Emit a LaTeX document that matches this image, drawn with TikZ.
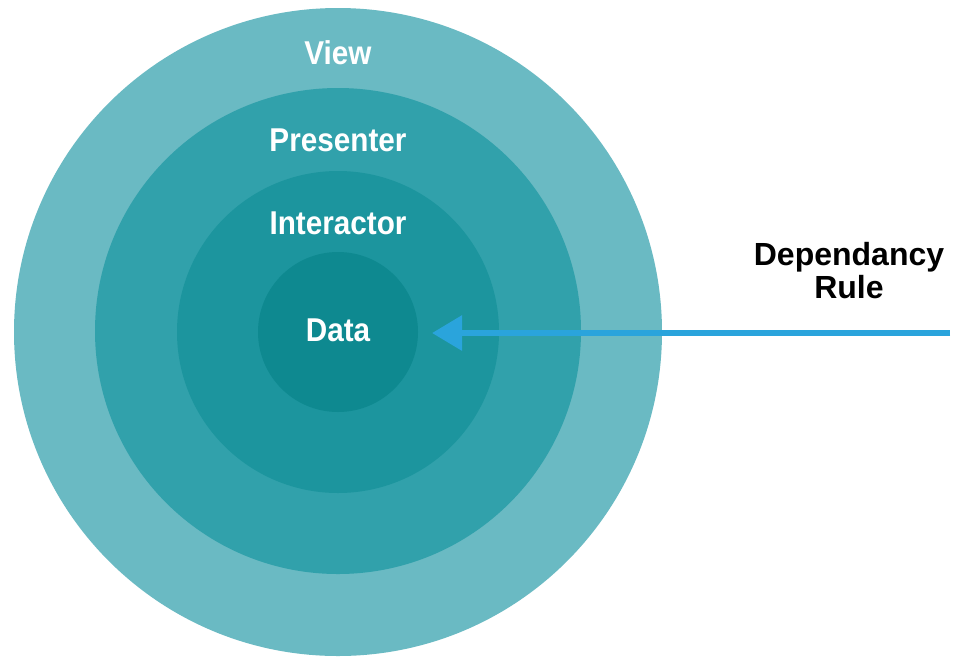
\documentclass[tikz,border=0pt]{standalone}
\usepackage{fontspec}
\setmainfont{Liberation Sans}
\newfontfamily\condfont{Liberation Sans}[FakeStretch=0.9]
\usetikzlibrary{arrows.meta}
\definecolor{cView}{HTML}{6ABAC3}
\definecolor{cPres}{HTML}{31A1AB}
\definecolor{cInter}{HTML}{1C959E}
\definecolor{cData}{HTML}{0E8990}
\definecolor{cArrow}{HTML}{2AA4DC}
\tikzset{
  ring/.style={circle, draw=none, inner sep=0pt},
  ringlabel/.style={text=white, font=\condfont\bfseries\fontsize{33}{36}\selectfont, inner sep=0pt},
  blacklabel/.style={text=black, font=\bfseries\fontsize{32}{32}\selectfont, align=center, inner sep=0pt},
  deparrow/.style={draw=cArrow, line width=6pt, -{Triangle[length=30pt,width=34pt]}}
}
\begin{document}
\begin{tikzpicture}[x=1pt,y=-1pt]
\fill[white] (0,0) rectangle (956,657);
\useasboundingbox (0,0) rectangle (956,657);
\node[ring, fill=cView, minimum size=648pt] (view) at (338,332) {};
\node[ring, fill=cPres, minimum size=486pt] (presenter) at (338,331) {};
\node[ring, fill=cInter, minimum size=322pt] (interactor) at (338,332) {};
\node[ring, fill=cData, minimum size=160pt] (data) at (338,332) {};
\node[ringlabel] (viewlbl) at (338,53) {View};
\node[ringlabel] (preslbl) at (338,140) {Presenter};
\node[ringlabel] (interlbl) at (338,223) {Interactor};
\node[ringlabel] (datalbl) at (338,330) {Data};
\node[blacklabel] (rule) at (849,271) {Dependancy\\[1pt]Rule};
\coordinate (arrowstart) at (950,333);
\coordinate (arrowtip) at (432,333);
\draw[deparrow] (arrowstart) -- (arrowtip);
\end{tikzpicture}
\end{document}
